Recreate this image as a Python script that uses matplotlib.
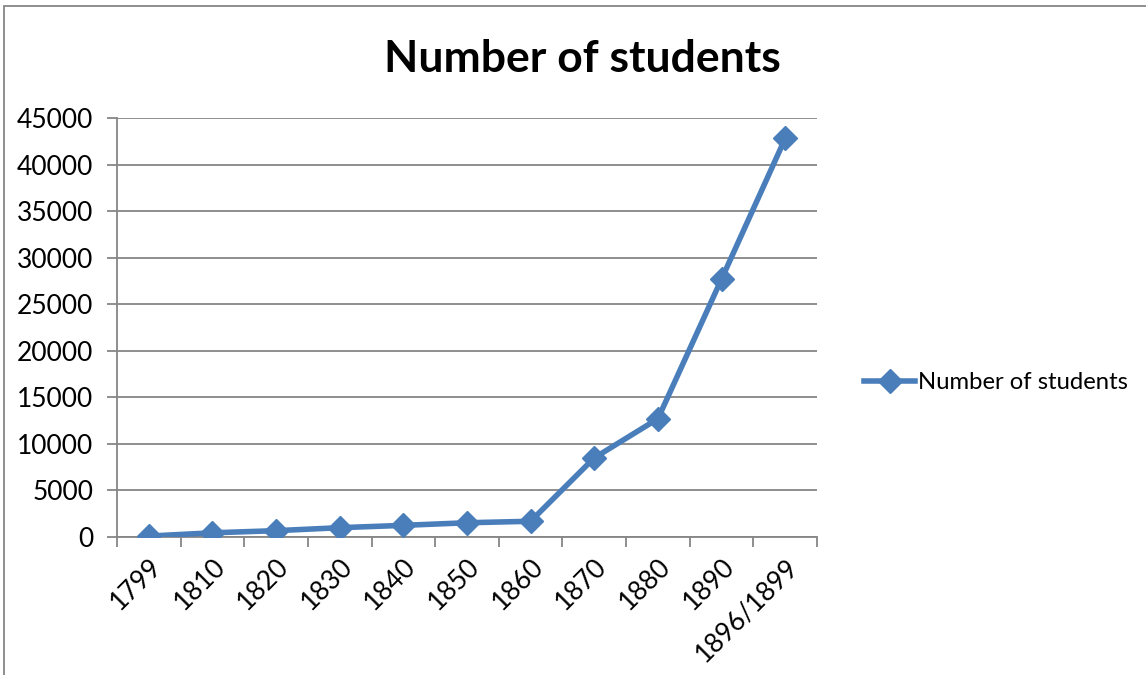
import numpy as np
import matplotlib.pyplot as plt
from matplotlib.patches import Rectangle

# Data
years = ["1799", "1810", "1820", "1830", "1840", "1850", "1860",
         "1870", "1880", "1890", "1896/1899"]
students = [100, 450, 680, 1000, 1250, 1530, 1690, 8500, 12700, 27700, 42800]
y_ticks = [0, 5000, 10000, 15000, 20000, 25000, 30000, 35000, 40000, 45000]

line_color = '#4a7ebb'
grid_color = '#868686'

plt.rcParams['font.family'] = ['Lato', 'DejaVu Sans']

fig = plt.figure(figsize=(11.46, 6.75), dpi=100)
ax = fig.add_axes([117 / 1146, 1 - 537 / 675, 700 / 1146, 419 / 675])

x = np.arange(len(years))
ax.plot(x, students, color=line_color, lw=4, marker='D', markersize=12,
        label='Number of students', zorder=3)

ax.set_xlim(-0.5, len(years) - 0.5)
ax.set_ylim(0, 45000)
ax.set_yticks(y_ticks)
ax.set_yticklabels([str(v) for v in y_ticks], fontsize=19)
ax.set_xticks(x)
ax.set_xticklabels(years, rotation=45, ha='right', va='top', fontsize=19,
                   rotation_mode='anchor')
ax.set_xticks(np.arange(-0.5, len(years)), minor=True)
ax.tick_params(axis='x', which='major', length=0, pad=12)
ax.tick_params(axis='x', which='minor', length=7, width=1.3, color=grid_color)
ax.tick_params(axis='y', length=7, width=1.3, color=grid_color, pad=10)

ax.grid(axis='y', color=grid_color, lw=1.3)
ax.set_axisbelow(True)
for side in ['top', 'right']:
    ax.spines[side].set_visible(False)
for side in ['left', 'bottom']:
    ax.spines[side].set_color(grid_color)
    ax.spines[side].set_linewidth(1.3)

fig.text(582 / 1146, 1 - 59 / 675, 'Number of students', ha='center',
         va='center', fontsize=32, fontweight='bold')

ax.legend(loc='center left', bbox_to_anchor=(852 / 1146, 1 - 383 / 675),
          bbox_transform=fig.transFigure, frameon=False, fontsize=17.2,
          handlelength=2.15, handletextpad=0.1, borderpad=0)

# outer chart border
fig.patches.append(Rectangle((4 / 1146, -0.05), 1.1, 1 - 6 / 675 + 0.05,
                             transform=fig.transFigure, fill=False,
                             edgecolor=grid_color, lw=1.3))

fig.savefig('out.png', dpi=100)
